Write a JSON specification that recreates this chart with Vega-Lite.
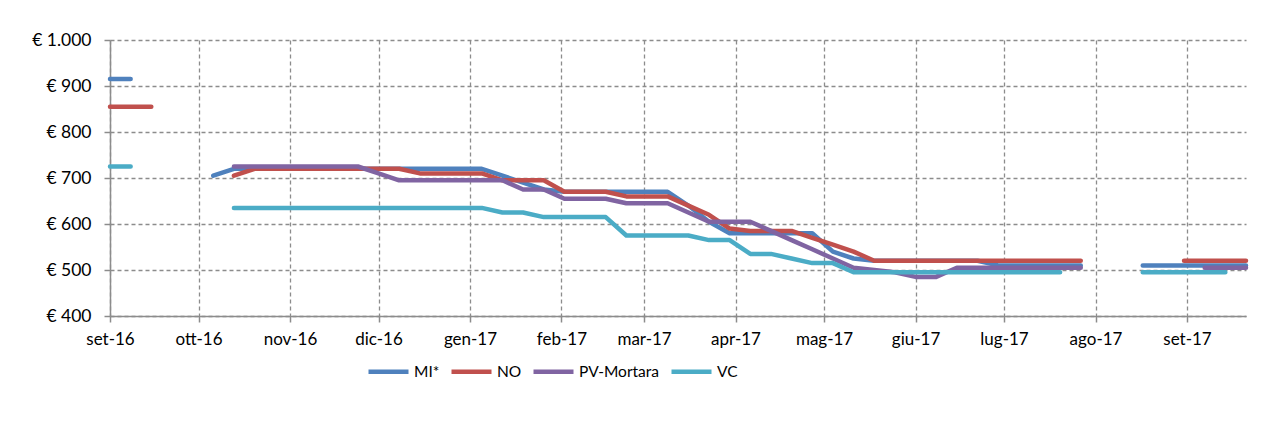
{
  "$schema": "https://vega.github.io/schema/vega-lite/v6.json",
  "width": 1136,
  "height": 276,
  "autosize": {"type": "none"},
  "padding": {"left": 110, "top": 40, "right": 17, "bottom": 109},
  "background": "white",
  "config": {
    "view": {"stroke": null},
    "font": "Lato",
    "axis": {
      "labelFont": "Lato",
      "labelFontSize": 17,
      "labelColor": "#000000",
      "domainColor": "#8c8c8c",
      "domainWidth": 1.5,
      "tickColor": "#8c8c8c",
      "tickWidth": 1.5,
      "tickSize": 6,
      "gridColor": "#8c8c8c",
      "gridWidth": 1.3,
      "gridDash": [4, 3],
      "title": null
    },
    "legend": {"labelFont": "Lato", "labelFontSize": 15.5, "labelColor": "#000000"}
  },
  "data": {
    "values": [
      {"data": "2016-09-01", "MI*": 915, "NO": 855, "PV-Mortara": null, "VC": 725},
      {"data": "2016-09-08", "MI*": 915, "NO": 855, "PV-Mortara": null, "VC": 725},
      {"data": "2016-09-15", "MI*": null, "NO": 855, "PV-Mortara": null, "VC": null},
      {"data": "2016-09-22", "MI*": null, "NO": null, "PV-Mortara": null, "VC": null},
      {"data": "2016-09-29", "MI*": null, "NO": null, "PV-Mortara": null, "VC": null},
      {"data": "2016-10-06", "MI*": 705, "NO": null, "PV-Mortara": null, "VC": null},
      {"data": "2016-10-13", "MI*": 720, "NO": 705, "PV-Mortara": 725, "VC": 635},
      {"data": "2016-10-20", "MI*": 720, "NO": 720, "PV-Mortara": 725, "VC": 635},
      {"data": "2016-10-27", "MI*": 720, "NO": 720, "PV-Mortara": 725, "VC": 635},
      {"data": "2016-11-03", "MI*": 720, "NO": 720, "PV-Mortara": 725, "VC": 635},
      {"data": "2016-11-10", "MI*": 720, "NO": 720, "PV-Mortara": 725, "VC": 635},
      {"data": "2016-11-17", "MI*": 720, "NO": 720, "PV-Mortara": 725, "VC": 635},
      {"data": "2016-11-24", "MI*": 720, "NO": 720, "PV-Mortara": 725, "VC": 635},
      {"data": "2016-12-01", "MI*": 720, "NO": 720, "PV-Mortara": 710, "VC": 635},
      {"data": "2016-12-08", "MI*": 720, "NO": 720, "PV-Mortara": 695, "VC": 635},
      {"data": "2016-12-15", "MI*": 720, "NO": 710, "PV-Mortara": 695, "VC": 635},
      {"data": "2016-12-22", "MI*": 720, "NO": 710, "PV-Mortara": 695, "VC": 635},
      {"data": "2016-12-29", "MI*": 720, "NO": 710, "PV-Mortara": 695, "VC": 635},
      {"data": "2017-01-05", "MI*": 720, "NO": 710, "PV-Mortara": 695, "VC": 635},
      {"data": "2017-01-12", "MI*": 705, "NO": 695, "PV-Mortara": 695, "VC": 625},
      {"data": "2017-01-19", "MI*": 690, "NO": 695, "PV-Mortara": 675, "VC": 625},
      {"data": "2017-01-26", "MI*": 675, "NO": 695, "PV-Mortara": 675, "VC": 615},
      {"data": "2017-02-02", "MI*": 670, "NO": 670, "PV-Mortara": 655, "VC": 615},
      {"data": "2017-02-09", "MI*": 670, "NO": 670, "PV-Mortara": 655, "VC": 615},
      {"data": "2017-02-16", "MI*": 670, "NO": 670, "PV-Mortara": 655, "VC": 615},
      {"data": "2017-02-23", "MI*": 670, "NO": 660, "PV-Mortara": 645, "VC": 575},
      {"data": "2017-03-02", "MI*": 670, "NO": 660, "PV-Mortara": 645, "VC": 575},
      {"data": "2017-03-09", "MI*": 670, "NO": 660, "PV-Mortara": 645, "VC": 575},
      {"data": "2017-03-16", "MI*": 640, "NO": 640, "PV-Mortara": 625, "VC": 575},
      {"data": "2017-03-23", "MI*": 605, "NO": 620, "PV-Mortara": 605, "VC": 565},
      {"data": "2017-03-30", "MI*": 580, "NO": 590, "PV-Mortara": 605, "VC": 565},
      {"data": "2017-04-06", "MI*": 580, "NO": 585, "PV-Mortara": 605, "VC": 535},
      {"data": "2017-04-13", "MI*": 580, "NO": 585, "PV-Mortara": 585, "VC": 535},
      {"data": "2017-04-20", "MI*": 580, "NO": 585, "PV-Mortara": 565, "VC": 525},
      {"data": "2017-04-27", "MI*": 580, "NO": 570, "PV-Mortara": 545, "VC": 515},
      {"data": "2017-05-04", "MI*": 540, "NO": 555, "PV-Mortara": 525, "VC": 515},
      {"data": "2017-05-11", "MI*": 525, "NO": 540, "PV-Mortara": 505, "VC": 495},
      {"data": "2017-05-18", "MI*": 520, "NO": 520, "PV-Mortara": 500, "VC": 495},
      {"data": "2017-05-25", "MI*": 520, "NO": 520, "PV-Mortara": 495, "VC": 495},
      {"data": "2017-06-01", "MI*": 520, "NO": 520, "PV-Mortara": 485, "VC": 495},
      {"data": "2017-06-08", "MI*": 520, "NO": 520, "PV-Mortara": 485, "VC": 495},
      {"data": "2017-06-15", "MI*": 520, "NO": 520, "PV-Mortara": 505, "VC": 495},
      {"data": "2017-06-22", "MI*": 520, "NO": 520, "PV-Mortara": 505, "VC": 495},
      {"data": "2017-06-29", "MI*": 510, "NO": 520, "PV-Mortara": 505, "VC": 495},
      {"data": "2017-07-06", "MI*": 510, "NO": 520, "PV-Mortara": 505, "VC": 495},
      {"data": "2017-07-13", "MI*": 510, "NO": 520, "PV-Mortara": 505, "VC": 495},
      {"data": "2017-07-20", "MI*": 510, "NO": 520, "PV-Mortara": 505, "VC": 495},
      {"data": "2017-07-27", "MI*": 510, "NO": 520, "PV-Mortara": 505, "VC": null},
      {"data": "2017-08-03", "MI*": null, "NO": null, "PV-Mortara": null, "VC": null},
      {"data": "2017-08-10", "MI*": null, "NO": null, "PV-Mortara": null, "VC": null},
      {"data": "2017-08-17", "MI*": 510, "NO": null, "PV-Mortara": null, "VC": 495},
      {"data": "2017-08-24", "MI*": 510, "NO": null, "PV-Mortara": null, "VC": 495},
      {"data": "2017-08-31", "MI*": 510, "NO": 520, "PV-Mortara": null, "VC": 495},
      {"data": "2017-09-07", "MI*": 510, "NO": 520, "PV-Mortara": 505, "VC": 495},
      {"data": "2017-09-14", "MI*": 510, "NO": 520, "PV-Mortara": 505, "VC": 495},
      {"data": "2017-09-21", "MI*": 510, "NO": 520, "PV-Mortara": 505, "VC": null}
    ]
  },
  "transform": [
    {"fold": ["MI*", "NO", "PV-Mortara", "VC"], "as": ["serie", "prezzo"]}
  ],
  "mark": {"type": "line", "strokeWidth": 4.5, "strokeCap": "round", "strokeJoin": "round"},
  "encoding": {
    "x": {
      "field": "data",
      "type": "temporal",
      "scale": {
        "type": "utc",
        "nice": false,
        "domain": [
          {"year": 2016, "month": 9, "date": 1, "utc": true},
          {"year": 2017, "month": 9, "date": 21, "utc": true}
        ]
      },
      "axis": {
        "tickCount": {"interval": "month", "step": 1},
        "labelExpr": "['gen','feb','mar','apr','mag','giu','lug','ago','set','ott','nov','dic'][utcmonth(datum.value)] + '-' + utcFormat(datum.value, '%y')",
        "labelPadding": 9,
        "labelFlush": false,
        "labelOverlap": false,
        "grid": true
      }
    },
    "y": {
      "field": "prezzo",
      "type": "quantitative",
      "scale": {"domain": [400, 1000], "nice": false, "zero": false},
      "axis": {
        "values": [400, 500, 600, 700, 800, 900, 1000],
        "labelExpr": "'€ ' + replace(format(datum.value, ','), ',', '.')",
        "labelPadding": 13,
        "labelFontSize": 17.5,
        "grid": true
      }
    },
    "color": {
      "field": "serie",
      "type": "nominal",
      "scale": {
        "domain": ["MI*", "NO", "PV-Mortara", "VC"],
        "range": ["#4F81BD", "#C0504D", "#8064A2", "#4BACC6"]
      },
      "legend": {
        "title": null,
        "orient": "none",
        "direction": "horizontal",
        "legendX": 256,
        "legendY": 309,
        "symbolType": "stroke",
        "symbolSize": 1600,
        "symbolStrokeWidth": 4.5,
        "labelOffset": 3,
        "columnPadding": 2
      }
    }
  }
}
